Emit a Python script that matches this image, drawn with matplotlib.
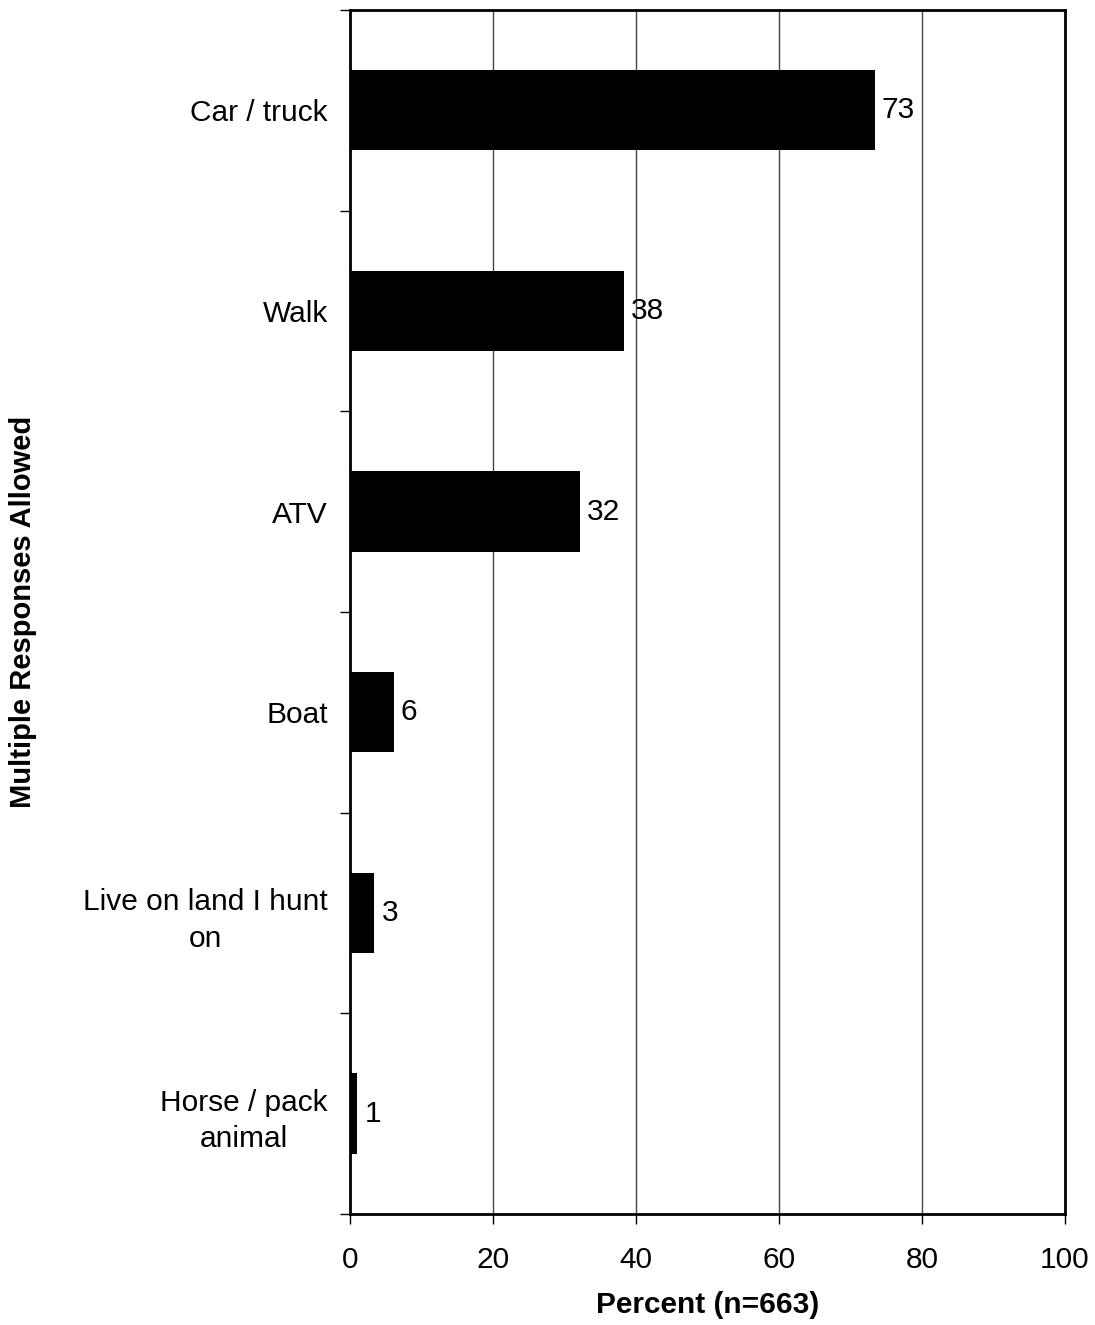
import matplotlib.pyplot as plt
import numpy as np

categories = ["Car / truck", "Walk", "ATV", "Boat", "Live on land I hunt\non", "Horse / pack\nanimal"]
values = [73.4, 38.3, 32.2, 6.1, 3.4, 1.0]
value_labels = ["73", "38", "32", "6", "3", "1"]
x_ticks = [0, 20, 40, 60, 80, 100]

plt.rcParams["font.family"] = ["Liberation Sans", "DejaVu Sans"]

fig = plt.figure(figsize=(10.95, 13.25), dpi=100)
ax = fig.add_axes([0.3196, 0.0838, 0.6530, 0.9087])

y = np.arange(len(categories))
ax.barh(y, values, height=0.4, color="black", zorder=3)
for yi, v, lab in zip(y, values, value_labels):
    ax.text(v + 1.0, yi, lab, va="center", ha="left", fontsize=21.5, zorder=4)

ax.set_xlim(0, 100)
ax.set_ylim(len(categories) - 0.5, -0.5)
ax.set_xticks(x_ticks)
ax.tick_params(axis="x", labelsize=21.5, length=7, width=1, pad=16, direction="out")

# boundaries as major ticks, category names as minor labels
ax.set_yticks(np.arange(-0.5, len(categories), 1.0))
ax.set_yticklabels([])
ax.tick_params(axis="y", which="major", length=7, width=1, direction="out")
ax.set_yticks(y, minor=True)
ax.set_yticklabels(categories, minor=True, fontsize=21.5, multialignment="center",
                   linespacing=1.4)
ax.tick_params(axis="y", which="minor", length=0, pad=16)

ax.xaxis.grid(True, color="#444444", linewidth=1, zorder=0)
for s in ax.spines.values():
    s.set_linewidth(2)

ax.set_xlabel("Percent (n=663)", fontsize=21.5, fontweight="bold", labelpad=12)
fig.text(0.021, 0.538, "Multiple Responses Allowed", rotation=90, fontsize=21,
         fontweight="bold", ha="center", va="center")

fig.savefig("out.png", dpi=100)
